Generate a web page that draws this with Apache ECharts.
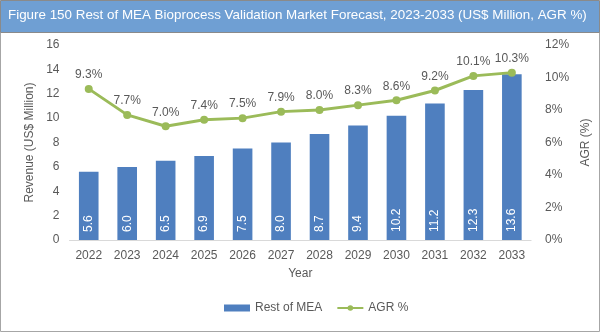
<!DOCTYPE html>
<html><head><meta charset="utf-8">
<script src="https://cdn.jsdelivr.net/npm/echarts@6/dist/echarts.min.js"></script>
<style>html,body{margin:0;padding:0;background:#fff}#c{width:600px;height:332px}</style>
</head><body><div id="c"></div>
<script>
const years = ['2022','2023','2024','2025','2026','2027','2028','2029','2030','2031','2032','2033'];
const revenue = [5.6, 6.0, 6.5, 6.9, 7.5, 8.0, 8.7, 9.4, 10.2, 11.2, 12.3, 13.6];
const agr = [9.3, 7.7, 7.0, 7.4, 7.5, 7.9, 8.0, 8.3, 8.6, 9.2, 10.1, 10.3];
const titleText = 'Figure 150 Rest of MEA Bioprocess Validation Market Forecast, 2023-2033 (US$ Million, AGR %)';
const txt = '#595959';
const font = 'Liberation Sans, Arial, sans-serif';
const chart = echarts.init(document.getElementById('c'));
chart.setOption({
  animation: false,
  textStyle: {fontFamily: font},
  graphic: [
    {type:'rect', shape:{x:0.5,y:32.5,width:599,height:299}, style:{fill:'none', stroke:'#a6a6a6', lineWidth:1}},
    {type:'rect', shape:{x:0.5,y:0.5,width:599,height:32}, style:{fill:'#6f9fd3', stroke:'#8a8a8a', lineWidth:1}},
    {type:'text', left:8, top:9, style:{text:titleText, fill:'#fff', font:'13.4px '+font}}
  ],
  grid: {left: 69.5, right: 60.5, top: 45, bottom: 92},
  legend: {
    left: 219, top: 297, itemGap: 14, itemWidth: 26, itemHeight: 7,
    textStyle: {color: txt, fontSize: 12, fontFamily: font},
    data: [{name:'Rest of MEA', icon:'rect'}, {name:'AGR %'}]
  },
  xAxis: {
    type: 'category', data: years, name: 'Year', nameLocation: 'middle', nameGap: 28,
    nameTextStyle: {color: txt, fontSize: 12},
    axisLine: {lineStyle: {color: '#d9d9d9'}}, axisTick: {show: false},
    axisLabel: {color: txt, fontSize: 12, margin: 10}
  },
  yAxis: [
    {type:'value', min:0, max:16, interval:2, name:'Revenue (US$ Million)', nameLocation:'middle', nameGap:28,
     nameTextStyle:{color:txt, fontSize:12}, axisLabel:{color:txt, fontSize:12, margin:10}, splitLine:{show:false},
     axisLine:{show:false}, axisTick:{show:false}},
    {type:'value', min:0, max:12, interval:2, name:'AGR (%)', nameLocation:'middle', nameGap:42,
     nameRotate: 90,
     nameTextStyle:{color:txt, fontSize:12}, axisLabel:{color:txt, fontSize:12, formatter:'{value}%', margin:14}, splitLine:{show:false},
     axisLine:{show:false}, axisTick:{show:false}}
  ],
  series: [
    {name:'Rest of MEA', type:'bar', data: revenue, barWidth:'51%',
     itemStyle:{color:'#4f7fbf'},
     label:{show:true, position:'insideBottom', rotate:90, align:'left', verticalAlign:'middle', distance:8, color:'#fff', fontSize:12,
       formatter: p => p.value.toFixed(1)}},
    {name:'AGR %', type:'line', yAxisIndex:1, data: agr, symbol:'circle', symbolSize:8,
     itemStyle:{color:'#9bbb59'}, lineStyle:{color:'#9bbb59', width:3},
     label:{show:true, position:'top', distance:4, color:txt, fontSize:12, formatter: p => p.value.toFixed(1)+'%'}}
  ]
});
</script></body></html>
